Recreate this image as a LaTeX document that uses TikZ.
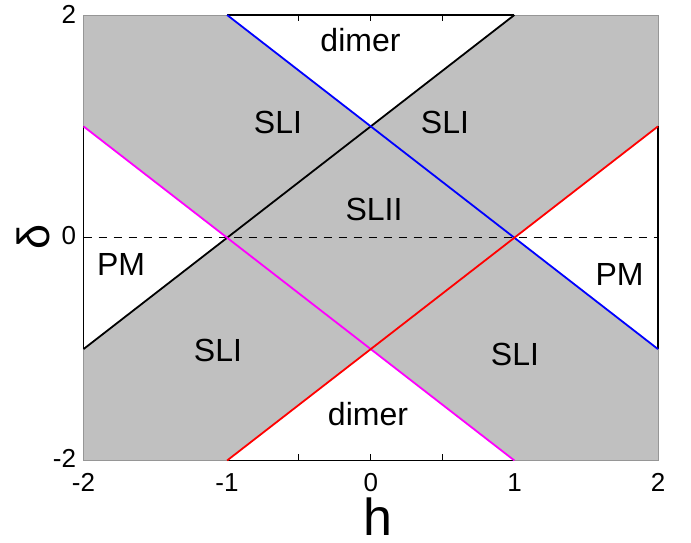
\documentclass[tikz,border=0pt]{standalone}
\usepackage{fontspec}
\setmainfont{Liberation Sans}
\definecolor{bgray}{RGB}{192,192,192}
\definecolor{edgegray}{RGB}{150,150,150}
\definecolor{mag}{RGB}{255,0,255}
\definecolor{pblue}{RGB}{0,0,255}
\definecolor{pred}{RGB}{255,0,0}
\begin{document}
\begin{tikzpicture}[x=1pt,y=1pt,
  lbl/.style={inner sep=0pt,outer sep=0pt,font=\fontsize{32}{36}\selectfont},
  ticklbl/.style={inner sep=0pt,outer sep=0pt,font=\fontsize{26}{30}\selectfont},
  phase/.style={line width=1.8pt},
  blackframe/.style={line width=1.4pt,black},
  grayframe/.style={line width=0.8pt,edgegray},
  tickline/.style={line width=1pt,black},
  ]
\useasboundingbox (0,0) rectangle (691,543);
\begin{scope}[shift={(370.75pt,305.25pt)},x=143.625pt,y=111.375pt]
  % corners and key points
  \coordinate (BL) at (-2,-2); \coordinate (TR) at (2,2);
  \coordinate (L1) at (-2,1); \coordinate (Lm1) at (-2,-1);
  \coordinate (R1) at (2,1);  \coordinate (Rm1) at (2,-1);
  \coordinate (T1) at (1,2);  \coordinate (Tm1) at (-1,2);
  \coordinate (B1) at (1,-2); \coordinate (Bm1) at (-1,-2);
  \coordinate (C1) at (0,1);  \coordinate (Cm1) at (0,-1);
  \coordinate (Lz) at (-2,0); \coordinate (Rz) at (2,0);
  \coordinate (TL) at (-2,2); \coordinate (BR) at (2,-2);
  % gray phase area and white regions
  \fill[bgray] (BL) rectangle (TR);
  \fill[white] (Tm1) -- (T1) -- (C1) -- cycle;
  \fill[white] (Bm1) -- (B1) -- (Cm1) -- cycle;
  \fill[white] (L1) -- (Lm1) -- (-1,0) -- cycle;
  \fill[white] (R1) -- (Rm1) -- (1,0) -- cycle;
  % frame
  \draw[grayframe] (Lm1) -- (BL) -- (Bm1);
  \draw[grayframe] (B1) -- (BR) -- (Rm1);
  \draw[grayframe] (R1) -- (TR) -- (T1);
  \draw[grayframe] (Tm1) -- (TL) -- (L1);
  \draw[blackframe] (L1) -- (Lm1);
  \draw[blackframe] (R1) -- (Rm1);
  \draw[blackframe] (Tm1) -- (T1);
  \draw[blackframe] (Bm1) -- (B1);
  % ticks
  \foreach \t in {-0.5,0,0.5}{
    \draw[tickline] (\t,2) -- ++(0,-6pt);
    \draw[tickline] (\t,-2) -- ++(0,6pt);
  }
  \draw[tickline] (Lz) -- ++(6pt,0);
  % dashed zero line
  \draw[black,line width=1.5pt,dash pattern=on 8.5pt off 6.5pt] (Lz) -- (Rz);
  % phase boundaries
  \draw[phase,black] (Lm1) -- (T1);
  \draw[phase,pblue] (Tm1) -- (Rm1);
  \draw[phase,mag] (L1) -- (B1);
  \draw[phase,pred] (Bm1) -- (R1);
\end{scope}
% region labels
\node[lbl] (dimtop) at (360.5,503) {dimer};
\node[lbl] (sli1) at (278,421) {SLI};
\node[lbl] (sli2) at (445,421) {SLI};
\node[lbl] (slii) at (374,333.3) {SLII};
\node[lbl] (pml) at (121,279) {PM};
\node[lbl] (pmr) at (619.5,269) {PM};
\node[lbl] (sli3) at (218,193) {SLI};
\node[lbl] (sli4) at (515,189) {SLI};
\node[lbl] (dimbot) at (368,129) {dimer};
% tick labels
\node[ticklbl,anchor=east] (y2) at (76,528.5) {2};
\node[ticklbl,anchor=east] (y0) at (76,307) {0};
\node[ticklbl,anchor=east] (ym2) at (76,84.5) {-2};
\node[ticklbl] (xm2) at (83.5,60.5) {-2};
\node[ticklbl] (xm1) at (227,60.5) {-1};
\node[ticklbl] (x0) at (370.75,60.5) {0};
\node[ticklbl] (x1) at (514.5,60.5) {1};
\node[ticklbl] (x2) at (658,60.5) {2};
% axis labels
\node[inner sep=0pt,font=\fontsize{52}{58}\selectfont] (hlab) at (378,26.5) {h};
\node[inner sep=0pt,rotate=90,font=\fontsize{45}{50}\selectfont] (dlab) at (33,306) {δ};
\end{tikzpicture}
\end{document}
